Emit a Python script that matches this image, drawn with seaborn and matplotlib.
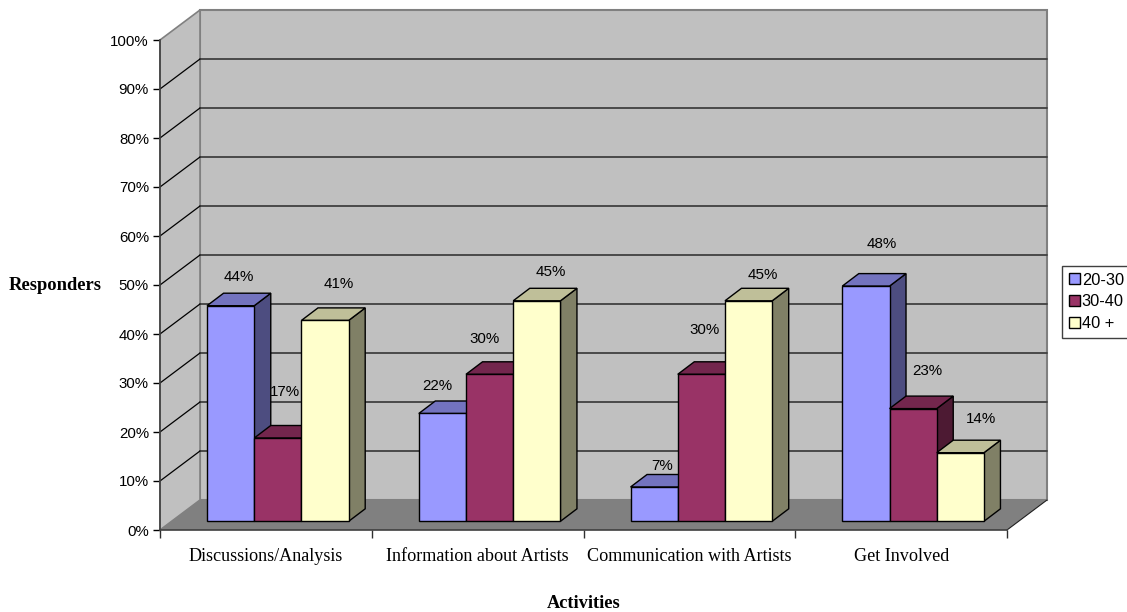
import pandas as pd
import matplotlib.pyplot as plt
import matplotlib.transforms as mtrans
from matplotlib.patches import Polygon
from matplotlib.ticker import FixedLocator
import seaborn as sns

# chart values
activities = ['Discussions/Analysis', 'Information about Artists', 'Communication with Artists', 'Get Involved']
age_groups = ['20-30', '30-40', '40 +']
age_20_30 = [44, 22, 7, 48]
age_30_40 = [17, 30, 30, 23]
age_40_up = [41, 45, 45, 14]
y_ticks = list(range(0, 101, 10))

# colours: front, side, top
front_cols = ['#9999FF', '#993366', '#FFFFCC']
side_cols = ['#4D4D80', '#4D1A33', '#808066']
top_cols = ['#7373BF', '#73264D', '#BFBF99']

# label nudges in pixels from the top of each front face, one row per series
label_dx = [[8, -5, 8, 16], [7, -5, 3, 14], [14, 14, 14, 21]]
label_dy = [[29, 28, 21, 42], [46, 35, 44, 38], [36, 29, 26, 34]]

W, H = 1127, 612
PX_X = 847 / 4    # pixels per category
PX_Y = 4.9        # pixels per percent
SERIF = ['Liberation Serif', 'DejaVu Serif']


def dx(px):
    return px / PX_X


def dy(px):
    return px / PX_Y


sns.set_theme(style='white')
plt.rcParams['font.family'] = ['Liberation Sans', 'DejaVu Sans']

df = pd.DataFrame({
    'activity': activities * 3,
    'age': [g for g in age_groups for _ in activities],
    'value': age_20_30 + age_30_40 + age_40_up,
})

fig = plt.figure(figsize=(W / 100, H / 100), dpi=100, facecolor='white')
ax = fig.add_axes([160 / W, (H - 530) / H, 847 / W, 490 / H])
ax.patch.set_alpha(0)

sns.barplot(data=df, x='activity', y='value', hue='age', hue_order=age_groups,
            palette=front_cols, saturation=1, width=0.669, errorbar=None,
            edgecolor='black', linewidth=1.0, ax=ax)

ax.set_xlim(-0.5, 3.5)
ax.set_ylim(0, 100)

# 3D box behind the bars
box_x, box_y = dx(40), dy(30)
x0, x1 = -0.5, 3.5
ax.add_patch(Polygon([(x0 + box_x, box_y), (x1 + box_x, box_y), (x1 + box_x, 100 + box_y), (x0 + box_x, 100 + box_y)],
                     fc='#C0C0C0', ec='#808080', lw=1.5, clip_on=False, zorder=1))
ax.add_patch(Polygon([(x0, 0), (x0 + box_x, box_y), (x0 + box_x, 100 + box_y), (x0, 100)],
                     fc='#C0C0C0', ec='#808080', lw=1.2, clip_on=False, zorder=1))
ax.add_patch(Polygon([(x0, 0), (x1, 0), (x1 + box_x, box_y), (x0 + box_x, box_y)],
                     fc='#808080', ec='none', clip_on=False, zorder=1.5))
for t in y_ticks[1:-1]:
    ax.plot([x0 + box_x, x1 + box_x], [t + box_y, t + box_y], color='#404040', lw=1.3, clip_on=False, zorder=2)
    ax.plot([x0, x0 + box_x], [t, t + box_y], color='black', lw=0.9, clip_on=False, zorder=2)
ax.plot([x1, x1 + box_x], [0, box_y], color='#202020', lw=0.8, clip_on=False, zorder=2)

# bars sit inside the box, with their own side and top faces
front_x, front_y = dx(12), dy(8.7)
side_x, side_y = dx(16.5), dy(12.5)
shift = mtrans.Affine2D().translate(front_x, front_y) + ax.transData

bars = []
for h, cont in enumerate(ax.containers):
    for c, bar in enumerate(cont):
        bars.append((c, h, bar))
bars.sort(key=lambda b: (b[0], b[1]))

z = 10
for c, h, bar in bars:
    bar.set_transform(shift)
    bar.set_clip_on(False)
    left, right, top = bar.get_x(), bar.get_x() + bar.get_width(), bar.get_height()
    ax.add_patch(Polygon([(right, 0), (right + side_x, side_y), (right + side_x, top + side_y), (right, top)],
                         fc=side_cols[h], ec='black', lw=1.0, transform=shift, clip_on=False, zorder=z))
    ax.add_patch(Polygon([(left, top), (right, top), (right + side_x, top + side_y), (left + side_x, top + side_y)],
                         fc=top_cols[h], ec='black', lw=1.0, transform=shift, clip_on=False, zorder=z + 1))
    bar.set_zorder(z + 2)
    z += 3
    ax.annotate(f'{int(top)}%', xy=((left + right) / 2 + front_x, top + front_y),
                xytext=(label_dx[h][c] * 0.72, label_dy[h][c] * 0.72), textcoords='offset points',
                ha='center', va='center', fontsize=10.9, color='black', zorder=100)

# axes
for side in ['top', 'right']:
    ax.spines[side].set_visible(False)
for side in ['left', 'bottom']:
    ax.spines[side].set_color('#404040')
    ax.spines[side].set_linewidth(1.2)
    ax.spines[side].set_zorder(5)

ax.set_yticks(y_ticks)
ax.set_yticklabels([f'{t}%' for t in y_ticks], fontsize=10.8, color='black', va='center_baseline')
ax.tick_params(axis='y', length=5, width=1, color='black', pad=3, left=True)
ax.tick_params(axis='x', which='major', length=0, pad=13, bottom=False)
ax.xaxis.set_minor_locator(FixedLocator([-0.5, 0.5, 1.5, 2.5, 3.5]))
ax.tick_params(axis='x', which='minor', length=6, width=1, color='#303030', bottom=True)
for lab in ax.get_xticklabels():
    lab.set_family(SERIF)
    lab.set_fontsize(13.1)
    lab.set_color('black')

ax.set_xlabel('Activities', family=SERIF, fontsize=13.2, fontweight='bold', color='black', va='center')
ax.xaxis.set_label_coords(0.5006, -0.149)
ax.set_ylabel('Responders', rotation=0, family=SERIF, fontsize=13.3, fontweight='bold', color='black',
              ha='center', va='center')
ax.yaxis.set_label_coords(-0.124, 0.5)

sns.move_legend(ax, 'upper left', bbox_to_anchor=(1062 / W, 1 - 266 / H), bbox_transform=fig.transFigure,
                title=None, frameon=True, fancybox=False, edgecolor='#404040', framealpha=1, fontsize=11.8,
                labelcolor='black', handlelength=0.68, handleheight=0.68, handletextpad=0.12, labelspacing=0.42,
                borderpad=0.4, borderaxespad=0)

fig.savefig('out.png', dpi=100)
